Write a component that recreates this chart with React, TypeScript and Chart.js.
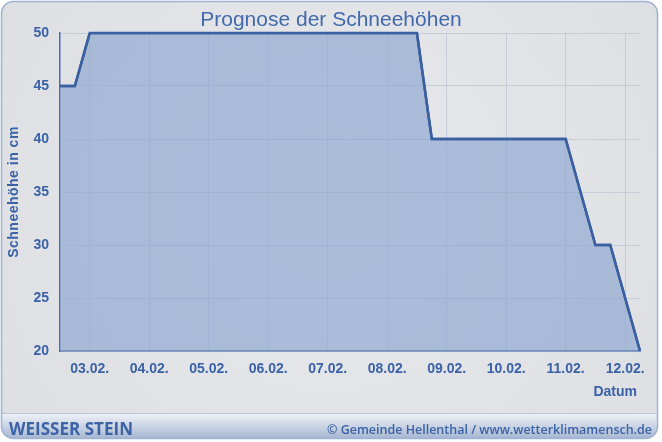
import React, { useEffect, useRef } from "react";
import { Chart, registerables } from "chart.js";

Chart.register(...registerables);

const W = 662;
const H = 442;

// 6-hourly forecast steps
const categories = [
  "02.02. 12:00", "02.02. 18:00",
  "03.02. 00:00", "03.02. 06:00", "03.02. 12:00", "03.02. 18:00",
  "04.02. 00:00", "04.02. 06:00", "04.02. 12:00", "04.02. 18:00",
  "05.02. 00:00", "05.02. 06:00", "05.02. 12:00", "05.02. 18:00",
  "06.02. 00:00", "06.02. 06:00", "06.02. 12:00", "06.02. 18:00",
  "07.02. 00:00", "07.02. 06:00", "07.02. 12:00", "07.02. 18:00",
  "08.02. 00:00", "08.02. 06:00", "08.02. 12:00", "08.02. 18:00",
  "09.02. 00:00", "09.02. 06:00", "09.02. 12:00", "09.02. 18:00",
  "10.02. 00:00", "10.02. 06:00", "10.02. 12:00", "10.02. 18:00",
  "11.02. 00:00", "11.02. 06:00", "11.02. 12:00", "11.02. 18:00",
  "12.02. 00:00", "12.02. 06:00",
];

// snow depth in cm
const snowDepth = [
  45, 45,
  50, 50, 50, 50,
  50, 50, 50, 50,
  50, 50, 50, 50,
  50, 50, 50, 50,
  50, 50, 50, 50,
  50, 50, 50, 40,
  40, 40, 40, 40,
  40, 40, 40, 40,
  40, 35, 30, 30,
  25, 20,
];

const yMin = 20;
const yMax = 50;
const yStep = 5;

const TITLE = "Prognose der Schneehöhen";
const Y_TITLE = "Schneehöhe in cm";
const X_TITLE = "Datum";
const FOOT_LEFT = "WEISSER STEIN";
const FOOT_RIGHT = "© Gemeinde Hellenthal / www.wetterklimamensch.de";

const TEXT_BLUE = "#3a62a6";
const FONT = "'Liberation Sans', Arial, sans-serif";
const GRID = "rgba(188,196,212,0.75)";
const AXIS = "#4a6aa8";

const isMidnight = (s: string) => s.endsWith("00:00");

function fitText(ctx: CanvasRenderingContext2D, text: string, x: number, y: number, width: number, align: "left" | "right") {
  const m = ctx.measureText(text).width;
  const sx = width / m;
  ctx.save();
  ctx.translate(x, y);
  ctx.scale(sx, 1);
  ctx.textAlign = align;
  ctx.fillText(text, 0, 0);
  ctx.restore();
}

const framePlugin = {
  id: "frame",
  beforeDraw(chart: any) {
    const ctx: CanvasRenderingContext2D = chart.ctx;
    ctx.save();
    ctx.fillStyle = "#ffffff";
    ctx.fillRect(0, 0, W, H);
    ctx.beginPath();
    (ctx as any).roundRect(1.5, 1.5, 656, 437, 12);
    const g = ctx.createRadialGradient(330, 200, 40, 330, 220, 430);
    g.addColorStop(0, "#e7e8eb");
    g.addColorStop(1, "#dcdee2");
    ctx.fillStyle = g;
    ctx.fill();
    ctx.save();
    ctx.clip();
    const fg = ctx.createLinearGradient(0, 414, 0, 439);
    fg.addColorStop(0, "#eef1f6");
    fg.addColorStop(1, "#a5b5d0");
    ctx.fillStyle = fg;
    ctx.fillRect(0, 414, W, 28);
    ctx.fillStyle = "#b8c4d8";
    ctx.fillRect(0, 413, W, 1);
    ctx.restore();
    ctx.strokeStyle = "#9db2d4";
    ctx.lineWidth = 1.5;
    ctx.stroke();
    ctx.restore();
  },
  afterDraw(chart: any) {
    const ctx: CanvasRenderingContext2D = chart.ctx;
    const area = chart.chartArea;
    // redraw data line above grid
    const meta = chart.getDatasetMeta(0);
    ctx.save();
    meta.dataset.draw(ctx, area);
    ctx.restore();

    ctx.save();
    ctx.fillStyle = "#4169ab";
    ctx.font = `21px ${FONT}`;
    ctx.textAlign = "center";
    ctx.textBaseline = "alphabetic";
    ctx.fillText(TITLE, 331, 26);

    ctx.fillStyle = TEXT_BLUE;
    ctx.font = `bold 14px ${FONT}`;
    ctx.save();
    ctx.translate(14, (area.top + area.bottom) / 2);
    ctx.rotate(-Math.PI / 2);
    ctx.textAlign = "center";
    ctx.textBaseline = "middle";
    (ctx as any).letterSpacing = "0.5px";
    ctx.fillText(Y_TITLE, 0, 0);
    ctx.restore();

    ctx.textAlign = "right";
    ctx.textBaseline = "middle";
    ctx.fillText(X_TITLE, 637, 392);

    ctx.textBaseline = "alphabetic";
    ctx.fillStyle = "#3b63a6";
    ctx.font = `bold 18px 'Open Sans', ${FONT}`;
    fitText(ctx, FOOT_LEFT, 9, 435, 124, "left");
    ctx.font = `600 13px 'Open Sans', ${FONT}`;
    fitText(ctx, FOOT_RIGHT, 652, 434, 325, "right");
    ctx.restore();
  },
};

export default function App() {
  const ref = useRef<HTMLCanvasElement | null>(null);

  useEffect(() => {
    if (!ref.current) return;
    const chart = new Chart(ref.current, {
      type: "line",
      data: {
        labels: categories,
        datasets: [
          {
            data: snowDepth,
            borderColor: "#3a60a2",
            borderWidth: 2.5,
            backgroundColor: "rgba(140,166,208,0.66)",
            fill: "start",
            pointRadius: 0,
            tension: 0,
          },
        ],
      },
      options: {
        responsive: false,
        animation: false,
        events: [],
        layout: { padding: { top: 33, right: 22, bottom: 0, left: 0 } },
        plugins: {
          legend: { display: false },
          tooltip: { enabled: false },
          title: { display: false },
        },
        scales: {
          x: {
            type: "category",
            offset: false,
            z: 1,
            afterFit: (s: any) => {
              s.height = 91;
            },
            grid: {
              drawTicks: false,
              offset: false,
              lineWidth: 1,
              color: (c: any) => (c.index > 0 && isMidnight(categories[c.index] || "") ? GRID : "rgba(0,0,0,0)"),
            },
            border: { display: true, color: AXIS, width: 1.5 },
            ticks: {
              autoSkip: false,
              maxRotation: 0,
              minRotation: 0,
              padding: 10,
              color: TEXT_BLUE,
              font: { family: FONT, size: 14, weight: "bold" },
              callback: (_v: any, i: number) => (isMidnight(categories[i]) ? categories[i].slice(0, 6) : ""),
            },
          },
          y: {
            min: yMin,
            max: yMax,
            z: 1,
            afterFit: (s: any) => {
              s.width = 60;
            },
            grid: {
              drawTicks: false,
              lineWidth: 1,
              color: GRID,
            },
            border: { display: true, color: AXIS, width: 1.5 },
            ticks: {
              stepSize: yStep,
              padding: 11,
              color: TEXT_BLUE,
              font: { family: FONT, size: 14, weight: "bold" },
            },
          },
        },
      },
      plugins: [framePlugin],
    } as any);
    return () => chart.destroy();
  }, []);

  return (
    <div style={{ position: "absolute", left: 0, top: 0, width: W, height: H }}>
      <canvas ref={ref} width={W} height={H} style={{ display: "block", width: W, height: H }} />
    </div>
  );
}
